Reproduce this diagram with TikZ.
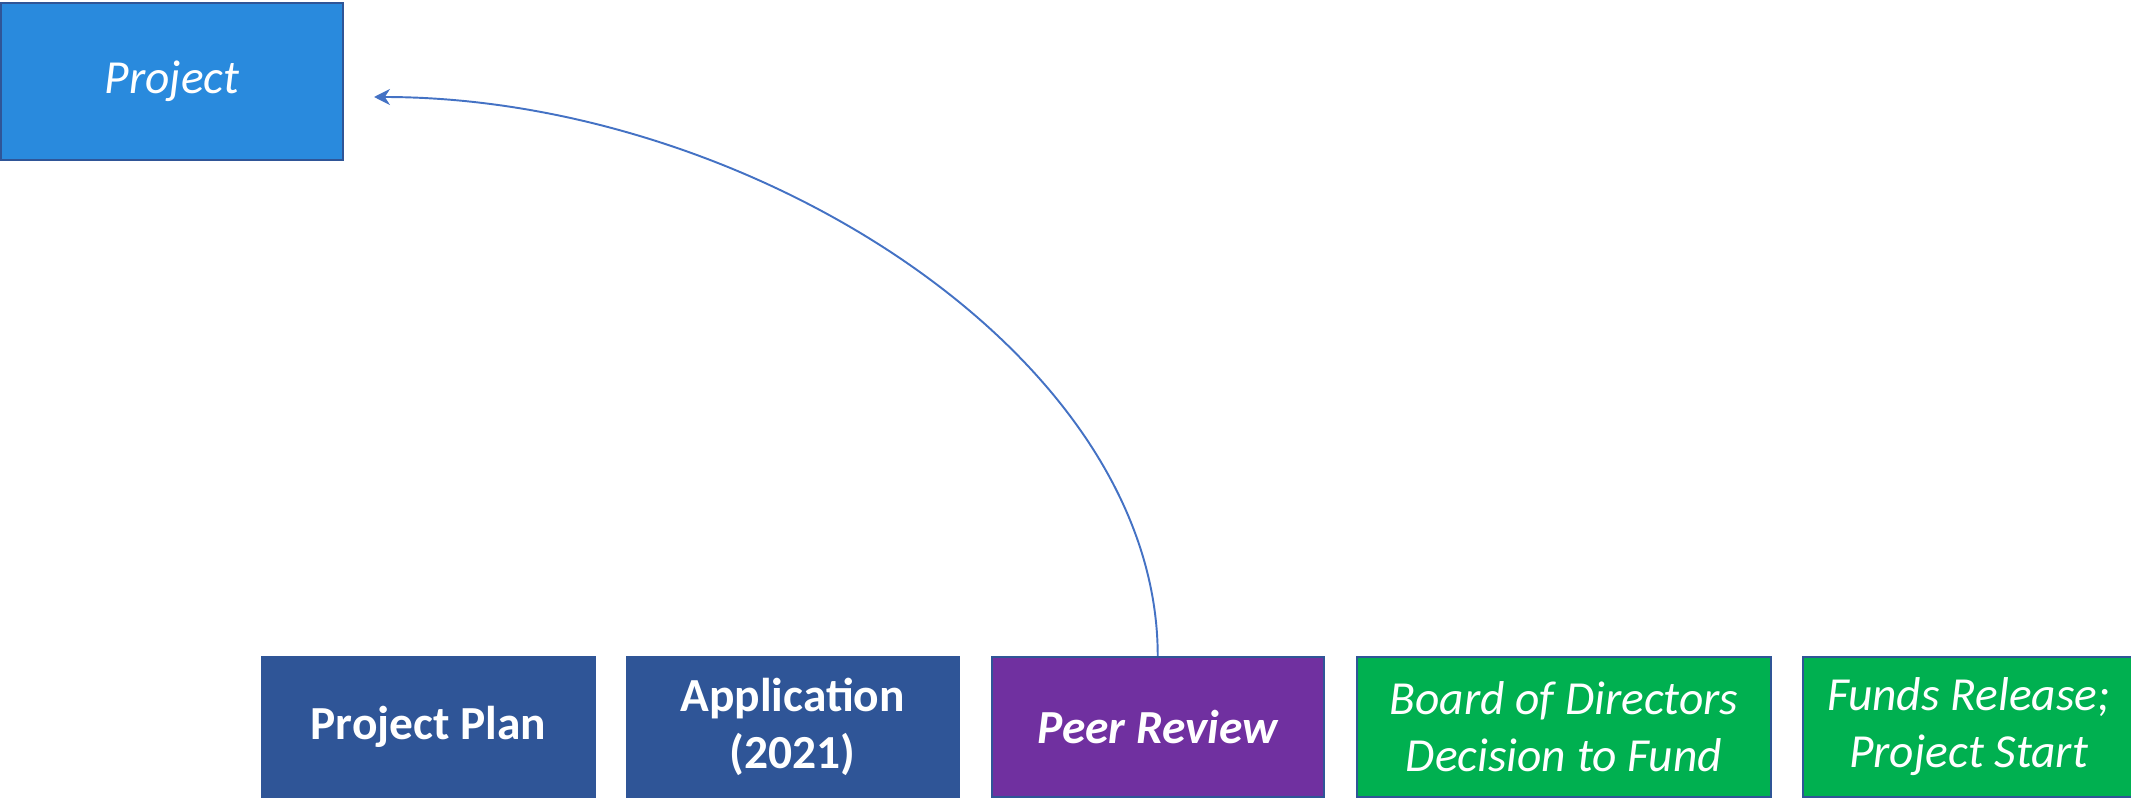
\documentclass[tikz,border=0pt]{standalone}
\usepackage{fontspec}
\setmainfont{Carlito}
\usetikzlibrary{arrows.meta, positioning}
\definecolor{topblue}{RGB}{41,138,221}
\definecolor{darkblue}{RGB}{47,85,151}
\definecolor{peerpurple}{RGB}{112,48,160}
\definecolor{fundgreen}{RGB}{0,176,80}
\definecolor{arrowblue}{RGB}{68,114,196}
\tikzset{
    stage/.style = {rectangle, draw=darkblue, line width=0.6pt, text=white, align=center,
                    inner sep=0pt, minimum height=1.4cm, minimum width=3.32cm,
                    font=\fontsize{13.5}{16.2}\selectfont},
    link/.style  = {arrowblue, line width=0.55pt, -{Stealth[length=1.6mm,width=1.6mm]}}
}

\begin{document}
\begin{tikzpicture}
            \useasboundingbox (0,0) rectangle (21.31,7.99);
            \node (project) at(1.72, 7.175) [stage, fill=topblue, minimum width=3.42cm, minimum height=1.57cm] {\itshape Project};
            \node (plan) at(4.285, 0.72) [stage, fill=darkblue, font=\fontsize{13.5}{16.2}\selectfont\bfseries] {Project Plan};
            \node (application) [stage, fill=darkblue, font=\fontsize{13.5}{16.2}\selectfont\bfseries, right=0.3cm of plan] {Application\\(2021)};
            \node (review) [stage, fill=peerpurple, font=\fontsize{13.5}{16.2}\selectfont\bfseries\itshape, right=0.31cm of application] {Peer Review};
            \node (board) [stage, fill=fundgreen, minimum width=4.14cm, font=\fontsize{13.5}{16.2}\selectfont\itshape, right=0.31cm of review] {Board of Directors\\Decision to Fund};
            \node (funds) [stage, fill=fundgreen, minimum width=3.31cm, font=\fontsize{13.5}{16.2}\selectfont\itshape, right=0.3cm of board] {Funds Release;\\Project Start};
            \coordinate (back) at(3.74, 7.02);

            \path (review) edge[link, out=90, in=0, out looseness=0.8, in looseness=1.0] (back);
        \end{tikzpicture}
\end{document}
